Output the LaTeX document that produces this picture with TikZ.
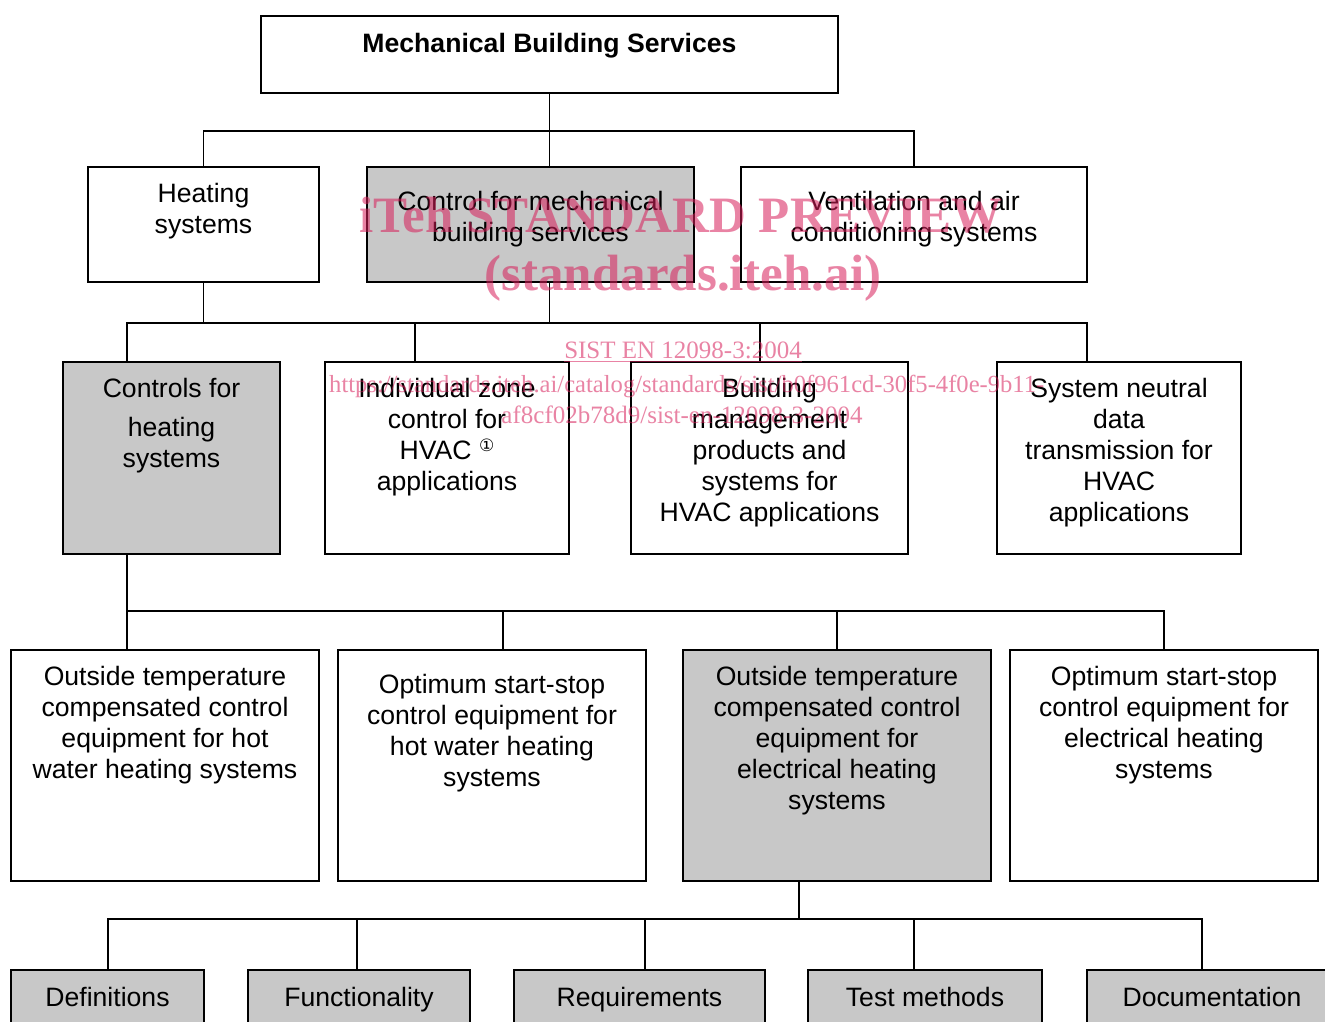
\documentclass[tikz,border=0pt]{standalone}
\usepackage{fontspec}
\setmainfont{Liberation Sans}
\newfontfamily\wmfont{Liberation Serif}
\newfontfamily\symfont{DejaVu Sans}
\usetikzlibrary{fit}
\definecolor{boxgray}{RGB}{200,200,200}
\definecolor{wmpink}{RGB}{215,30,90}
\begin{document}
\begin{tikzpicture}[x=1pt,y=-1pt,
 box/.style={draw=black, line width=1.6pt, inner sep=0pt, fill=white},
 gbox/.style={box, fill=boxgray},
 txt/.style={align=center, anchor=north, inner sep=0pt, font=\fontsize{26.6}{31}\selectfont},
 conn/.style={line width=1.5pt},
 wm/.style={text=wmpink, text opacity=0.55, inner sep=0pt, anchor=base}]
\clip (0,0) rectangle (1325,1022);
\fill[white] (0,0) rectangle (1325,1022);

% boxes
\node[box, fit={(261,16)(838,93)}] (top) {};
\node[box, fit={(88,167)(319,282)}] (heat) {};
\node[gbox, fit={(367,167)(694,282)}] (ctrl) {};
\node[box, fit={(741,167)(1087,282)}] (vent) {};
\node[gbox, fit={(63,362)(280,554)}] (chc) {};
\node[box, fit={(325,362)(569,554)}] (ind) {};
\node[box, fit={(631,362)(908,554)}] (bld) {};
\node[box, fit={(997,362)(1241,554)}] (sys) {};
\node[box, fit={(11,650)(319,881)}] (o1) {};
\node[box, fit={(338,650)(646,881)}] (o2) {};
\node[gbox, fit={(683,650)(991,881)}] (o3) {};
\node[box, fit={(1010,650)(1318,881)}] (o4) {};
\node[gbox, fit={(11,970)(204,1070)}] (d1) {};
\node[gbox, fit={(248,970)(470,1070)}] (d2) {};
\node[gbox, fit={(514,970)(765,1070)}] (d3) {};
\node[gbox, fit={(808,970)(1042,1070)}] (d4) {};
\node[gbox, fit={(1087,970)(1337,1070)}] (d5) {};

% texts
\node[txt] (topT) at (549.5,30.3) {\strut\bfseries Mechanical Building Services};
\node[txt] (heatT) at (203.5,180.3) {\strut Heating\\systems};
\node[txt] (ctrlT) at (530.5,188.3) {\strut Control for mechanical\\building services};
\node[txt] (ventT) at (914,188.3) {\strut Ventilation and air\\conditioning systems};
\node[txt] (chcT) at (171.5,375.3) {\strut Controls for\\[8pt]heating\\systems};
\node[txt] (indT) at (447,375.3) {\strut Individual zone\\control for\\HVAC {\symfont\fontsize{17}{17}\selectfont\raisebox{8pt}{①}}\\applications};
\node[txt] (bldT) at (769.5,375.3) {\strut Building\\management\\products and\\systems for\\HVAC applications};
\node[txt] (sysT) at (1119,375.3) {\strut System neutral\\data\\transmission for\\HVAC\\applications};
\node[txt] (o1T) at (165,663.3) {\strut Outside temperature\\compensated control\\equipment for hot\\water heating systems};
\node[txt] (o2T) at (492,671.3) {\strut Optimum start-stop\\control equipment for\\hot water heating\\systems};
\node[txt] (o3T) at (837,663.3) {\strut Outside temperature\\compensated control\\equipment for\\electrical heating\\systems};
\node[txt] (o4T) at (1164,663.3) {\strut Optimum start-stop\\control equipment for\\electrical heating\\systems};
\node[txt] (d1T) at (107.5,984.3) {\strut Definitions};
\node[txt] (d2T) at (359,984.3) {\strut Functionality};
\node[txt] (d3T) at (639.5,984.3) {\strut Requirements};
\node[txt] (d4T) at (925,984.3) {\strut Test methods};
\node[txt] (d5T) at (1212,984.3) {\strut Documentation};

% connectors
\coordinate (b1) at (549.5,131);
\draw[conn] (top.south) -- (top.south |- ctrl.north);
\draw[conn] (heat.north) |- (b1) -| (vent.north);

\coordinate (p1) at (127,323); \coordinate (p2) at (415,323);
\coordinate (p3) at (760,323); \coordinate (p4) at (1087,323);
\draw[conn] (heat.south) -- (heat.south |- p1);
\draw[conn] (top.south |- ctrl.south) -- (top.south |- p1);
\draw[conn] (chc.north -| p1) -- (p1) -- (p4) -- (sys.north -| p4);
\draw[conn] (p2) -- (ind.north -| p2);
\draw[conn] (p3) -- (bld.north -| p3);

\coordinate (q1) at (127,611); \coordinate (q2) at (503,611);
\coordinate (q3) at (837,611); \coordinate (q4) at (1164,611);
\draw[conn] (chc.south -| q1) -- (o1.north -| q1);
\draw[conn] (q1) -- (q4) -- (o4.north -| q4);
\draw[conn] (q2) -- (o2.north -| q2);
\draw[conn] (q3) -- (o3.north -| q3);

\coordinate (r0) at (799,919);
\coordinate (r1) at (108,919); \coordinate (r2) at (357,919);
\coordinate (r3) at (645,919); \coordinate (r4) at (914,919);
\coordinate (r5) at (1202,919);
\draw[conn] (o3.south -| r0) -- (r0);
\draw[conn] (d1.north -| r1) -- (r1) -- (r5) -- (d5.north -| r5);
\draw[conn] (r2) -- (d2.north -| r2);
\draw[conn] (r3) -- (d3.north -| r3);
\draw[conn] (r4) -- (d4.north -| r4);

% watermark
\node[wm, font=\wmfont\bfseries\fontsize{51}{51}\selectfont] (wm1) at (681,232) {iTeh STANDARD PREVIEW};
\node[wm, font=\wmfont\bfseries\fontsize{51}{51}\selectfont] (wm2) at (683,290) {(standards.iteh.ai)};
\node[wm, font=\wmfont\fontsize{25}{25}\selectfont] (wm3) at (683,358) {SIST EN 12098-3:2004};
\draw[wmpink, opacity=0.55, line width=1pt] (wm3.base west) ++(0,3.5) -- ([yshift=-3.5pt]wm3.base east);
\node[wm, anchor=base west, font=\wmfont\fontsize{24.6}{25}\selectfont] (wm4) at (329,392) {https://standards.iteh.ai/catalog/standards/sist/b0f961cd-30f5-4f0e-9b11-};
\node[wm, font=\wmfont\fontsize{25}{25}\selectfont] (wm5) at (682,423) {af8cf02b78d9/sist-en-12098-3-2004};
\end{tikzpicture}
\end{document}
